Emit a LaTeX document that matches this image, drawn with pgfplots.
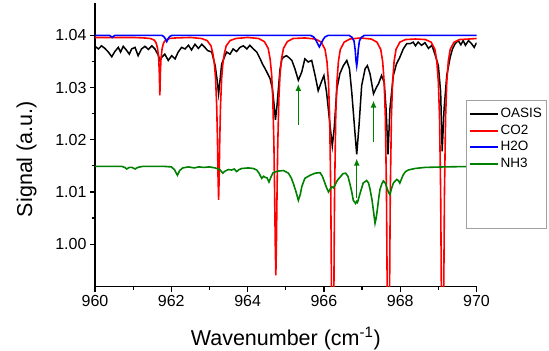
\documentclass[border=0pt]{standalone}
\usepackage{pgfplots}
\pgfplotsset{compat=1.18}
\usepackage{fontspec}
\setmainfont{Liberation Sans}
\usetikzlibrary{arrows.meta}
\definecolor{nh3}{RGB}{0,128,0}
\definecolor{legframe}{RGB}{160,160,160}
\begin{document}
\begin{tikzpicture}
\begin{axis}[
  scale only axis, width=381.5pt, height=283.7pt,
  xmin=960, xmax=970, ymin=0.99184, ymax=1.0462,
  axis lines=left, axis line style={-, line width=1.5pt},
  tick align=outside, major tick length=5pt, minor tick length=3pt,
  tick style={black, line width=1.2pt},
  xtick={960,962,...,970}, minor x tick num=1,
  ytick={1.00,1.01,1.02,1.03,1.04}, minor y tick num=1,
  /pgf/number format/assume math mode=true,
  xticklabel style={font=\fontsize{16}{19}\selectfont, /pgf/number format/.cd, set thousands separator={}},
  yticklabel style={font=\fontsize{16}{19}\selectfont, /pgf/number format/.cd, fixed, fixed zerofill, precision=2},
  scaled y ticks=false,
  xlabel={Wavenumber (cm\textsuperscript{-1})},
  ylabel={Signal (a.u.)},
  xlabel style={font=\fontsize{21.5}{24}\selectfont, at={(axis description cs:0.5,-0.2055)}, anchor=base},
  ylabel style={font=\fontsize{21.5}{24}\selectfont, at={(axis description cs:-0.165,0.45)}, anchor=base},
  legend cell align=left,
  legend image code/.code={\draw[#1, line width=1.8pt] (0pt,0pt) -- (28pt,0pt);},
  legend style={at={(axis description cs:0.9725,0.6598)}, anchor=north west,
    draw=legframe, fill=white, font=\fontsize{13.5}{15}\selectfont,
    inner xsep=3pt, inner ysep=7pt, row sep=1.5pt,
    nodes={inner sep=1.5pt, text height=9.5pt, text depth=2.5pt}},
  clip=true,
]
\addplot[black, line width=1.5pt] coordinates {
(960.00,1.0379)(960.09,1.0374)(960.17,1.0380)(960.26,1.0375)(960.35,1.0368)(960.44,1.0359)
(960.52,1.0369)(960.61,1.0377)(960.67,1.0368)(960.74,1.0379)(960.81,1.0373)(960.90,1.0364)
(960.96,1.0374)(961.05,1.0377)(961.13,1.0361)(961.22,1.0374)(961.31,1.0379)(961.40,1.0373)
(961.49,1.0380)(961.57,1.0374)(961.66,1.0362)(961.70,1.0352)(961.75,1.0358)(961.83,1.0364)
(961.92,1.0352)(962.01,1.0361)(962.10,1.0355)(962.18,1.0368)(962.27,1.0377)(962.36,1.0374)
(962.45,1.0381)(962.53,1.0372)(962.62,1.0383)(962.71,1.0375)(962.80,1.0383)(962.88,1.0377)
(962.95,1.0371)(963.06,1.0368)(963.15,1.0342)(963.20,1.0315)(963.24,1.0288)(963.28,1.0316)
(963.32,1.0345)(963.39,1.0358)(963.45,1.0368)(963.54,1.0364)(963.62,1.0374)(963.71,1.0369)
(963.80,1.0377)(963.89,1.0380)(963.98,1.0374)(964.06,1.0381)(964.15,1.0374)(964.24,1.0368)
(964.33,1.0355)(964.39,1.0345)(964.46,1.0336)(964.53,1.0326)(964.59,1.0317)(964.65,1.0298)
(964.69,1.0270)(964.73,1.0238)(964.77,1.0265)(964.81,1.0300)(964.85,1.0335)(964.90,1.0355)
(964.96,1.0359)(965.02,1.0361)(965.09,1.0357)(965.16,1.0352)(965.24,1.0336)(965.33,1.0314)
(965.42,1.0330)(965.50,1.0355)(965.59,1.0349)(965.68,1.0352)(965.77,1.0323)(965.85,1.0294)
(965.94,1.0312)(966.00,1.0323)(966.07,1.0291)(966.16,1.0228)(966.22,1.0188)(966.27,1.0222)
(966.34,1.0298)(966.42,1.0327)(966.51,1.0342)(966.60,1.0352)(966.67,1.0336)(966.73,1.0291)
(966.82,1.0208)(966.86,1.0172)(966.92,1.0227)(966.99,1.0304)(967.08,1.0336)(967.14,1.0342)
(967.21,1.0326)(967.30,1.0288)(967.38,1.0301)(967.43,1.0307)(967.51,1.0323)(967.58,1.0310)
(967.63,1.0259)(967.68,1.0172)(967.73,1.0259)(967.82,1.0323)(967.90,1.0345)(967.99,1.0358)
(968.08,1.0374)(968.17,1.0384)(968.26,1.0384)(968.34,1.0387)(968.40,1.0380)(968.47,1.0387)
(968.56,1.0381)(968.65,1.0386)(968.74,1.0375)(968.83,1.0381)(968.91,1.0364)(969.00,1.0342)
(969.06,1.0291)(969.10,1.0178)(969.15,1.0259)(969.22,1.0323)(969.31,1.0358)(969.37,1.0374)
(969.44,1.0384)(969.52,1.0390)(969.59,1.0382)(969.65,1.0390)(969.71,1.0381)(969.79,1.0390)
(969.87,1.0384)(969.94,1.0377)(970.00,1.0386)
};
\addlegendentry{OASIS}
\addplot[red, line width=1.6pt] coordinates {
(960.00,1.0396)(960.50,1.0396)(961.00,1.0396)(961.30,1.0395)(961.45,1.0394)(961.55,1.0391)
(961.60,1.0386)(961.64,1.0375)(961.67,1.0355)(961.685,1.0330)(961.70,1.0285)(961.715,1.0330)
(961.73,1.0355)(961.76,1.0375)(961.80,1.0386)(961.85,1.0391)(961.95,1.0394)(962.10,1.0395)
(962.50,1.0396)(962.79,1.0394)(962.94,1.0390)(963.04,1.0380)(963.09,1.0365)(963.13,1.0345)
(963.16,1.0318)(963.19,1.0265)(963.21,1.0200)(963.225,1.0130)(963.24,1.0085)(963.255,1.0130)
(963.27,1.0200)(963.29,1.0265)(963.32,1.0318)(963.35,1.0345)(963.39,1.0365)(963.44,1.0380)
(963.54,1.0390)(963.69,1.0394)(964.00,1.0396)(964.29,1.0394)(964.44,1.0388)(964.54,1.0375)
(964.59,1.0355)(964.63,1.0325)(964.66,1.0280)(964.69,1.0190)(964.71,1.0090)(964.725,1.0000)
(964.74,0.9940)(964.755,1.0000)(964.77,1.0090)(964.79,1.0190)(964.82,1.0280)(964.85,1.0325)
(964.89,1.0355)(964.94,1.0375)(965.04,1.0388)(965.19,1.0394)(965.50,1.0395)(965.78,1.0393)
(965.93,1.0387)(966.03,1.0373)(966.08,1.0350)(966.12,1.0310)(966.15,1.0245)(966.18,1.0100)
(966.195,0.9950)(966.21,0.9780)(966.23,0.9700)(966.25,0.9780)(966.265,0.9950)(966.28,1.0100)
(966.31,1.0245)(966.34,1.0310)(966.38,1.0350)(966.43,1.0373)(966.53,1.0387)(966.68,1.0393)
(966.96,1.0395)(967.24,1.0393)(967.39,1.0387)(967.49,1.0373)(967.54,1.0350)(967.58,1.0310)
(967.61,1.0245)(967.64,1.0100)(967.655,0.9950)(967.67,0.9780)(967.69,0.9700)(967.71,0.9780)
(967.725,0.9950)(967.74,1.0100)(967.77,1.0245)(967.80,1.0310)(967.84,1.0350)(967.89,1.0373)
(967.99,1.0387)(968.14,1.0392)(968.40,1.0393)(968.66,1.0392)(968.81,1.0387)(968.91,1.0373)
(968.96,1.0350)(969.00,1.0310)(969.03,1.0245)(969.06,1.0100)(969.075,0.9950)(969.09,0.9780)
(969.11,0.9700)(969.13,0.9780)(969.145,0.9950)(969.16,1.0100)(969.19,1.0245)(969.22,1.0310)
(969.26,1.0350)(969.31,1.0373)(969.41,1.0387)(969.56,1.0392)(969.80,1.0393)(970.00,1.0394)
};
\addlegendentry{CO2}
\addplot[blue, line width=1.6pt] coordinates {
(960.00,1.0400)(960.38,1.0400)(960.42,1.0398)(960.45,1.0396)(960.48,1.0398)(960.52,1.0400)
(961.75,1.0400)(961.80,1.0398)(961.84,1.0394)(961.88,1.0388)(961.92,1.0394)(961.96,1.0398)
(962.02,1.0400)(965.65,1.0400)(965.73,1.0397)(965.78,1.0392)(965.83,1.0385)(965.88,1.0378)
(965.93,1.0385)(965.98,1.0392)(966.03,1.0397)(966.11,1.0400)(966.66,1.0400)(966.74,1.0396)
(966.79,1.0389)(966.82,1.0372)(966.84,1.0352)(966.86,1.0341)(966.88,1.0352)(966.90,1.0372)
(966.93,1.0389)(966.98,1.0396)(967.06,1.0400)(970.00,1.0400)
};
\addlegendentry{H2O}
\addplot[nh3, line width=1.6pt] coordinates {
(960.00,1.0149)(960.70,1.0149)(960.78,1.0147)(960.83,1.0144)(960.90,1.0147)(960.97,1.0147)
(961.05,1.0144)(961.12,1.0147)(961.25,1.0149)(961.80,1.0149)(962.00,1.0148)(962.08,1.0143)
(962.16,1.0132)(962.22,1.0141)(962.30,1.0146)(962.45,1.0148)(962.60,1.0146)(962.72,1.0148)
(962.85,1.0147)(963.00,1.0148)(963.15,1.0146)(963.27,1.0143)(963.35,1.0136)(963.41,1.0140)
(963.50,1.0143)(963.58,1.0142)(963.65,1.0144)(963.71,1.0139)(963.78,1.0143)(963.85,1.0145)
(964.02,1.0146)(964.15,1.0145)(964.24,1.0142)(964.30,1.0136)(964.37,1.0126)(964.42,1.0130)
(964.46,1.0128)(964.51,1.0127)(964.56,1.0119)(964.62,1.0130)(964.67,1.0137)(964.80,1.0140)
(964.94,1.0141)(965.07,1.0136)(965.15,1.0126)(965.20,1.0116)(965.27,1.0100)(965.33,1.0084)
(965.38,1.0095)(965.42,1.0110)(965.50,1.0126)(965.64,1.0132)(965.77,1.0136)(965.90,1.0137)
(965.96,1.0130)(966.01,1.0120)(966.07,1.0108)(966.12,1.0100)(966.17,1.0106)(966.21,1.0110)
(966.25,1.0108)(966.29,1.0113)(966.35,1.0122)(966.42,1.0128)(966.50,1.0135)(966.57,1.0136)
(966.63,1.0130)(966.68,1.0116)(966.73,1.0100)(966.77,1.0084)(966.83,1.0078)(966.86,1.0082)
(966.88,1.0080)(966.92,1.0090)(966.95,1.0098)(967.03,1.0117)(967.12,1.0122)(967.17,1.0117)
(967.21,1.0105)(967.26,1.0085)(967.30,1.0063)(967.34,1.0040)(967.37,1.0050)(967.40,1.0066)
(967.44,1.0090)(967.47,1.0105)(967.52,1.0116)(967.56,1.0121)(967.61,1.0117)(967.65,1.0108)
(967.70,1.0098)(967.73,1.0095)(967.77,1.0106)(967.82,1.0117)(967.91,1.0124)(967.95,1.0122)
(967.99,1.0117)(968.04,1.0126)(968.08,1.0133)(968.14,1.0139)(968.21,1.0142)(968.39,1.0145)
(968.65,1.0147)(969.17,1.0148)(970.00,1.0149)
};
\addlegendentry{NH3}
\addlegendimage{empty legend}\addlegendentry{}
\addlegendimage{empty legend}\addlegendentry{}
\addlegendimage{empty legend}\addlegendentry{}
\draw[nh3, line width=1.4pt, -{Latex[length=7pt,width=6pt]}] (axis cs:965.33,1.0228) -- (axis cs:965.33,1.0307);
\draw[nh3, line width=1.4pt, -{Latex[length=7pt,width=6pt]}] (axis cs:967.30,1.0196) -- (axis cs:967.30,1.0275);
\draw[nh3, line width=1.4pt, -{Latex[length=7pt,width=6pt]}] (axis cs:966.86,1.0088) -- (axis cs:966.86,1.0164);
\coordinate (bbll) at (rel axis cs:-0.2490,-0.2231);
\coordinate (bbur) at (rel axis cs:1.1900,1.0106);
\end{axis}
\pgfresetboundingbox
\path[use as bounding box] (bbll) rectangle (bbur);
\end{tikzpicture}
\end{document}
